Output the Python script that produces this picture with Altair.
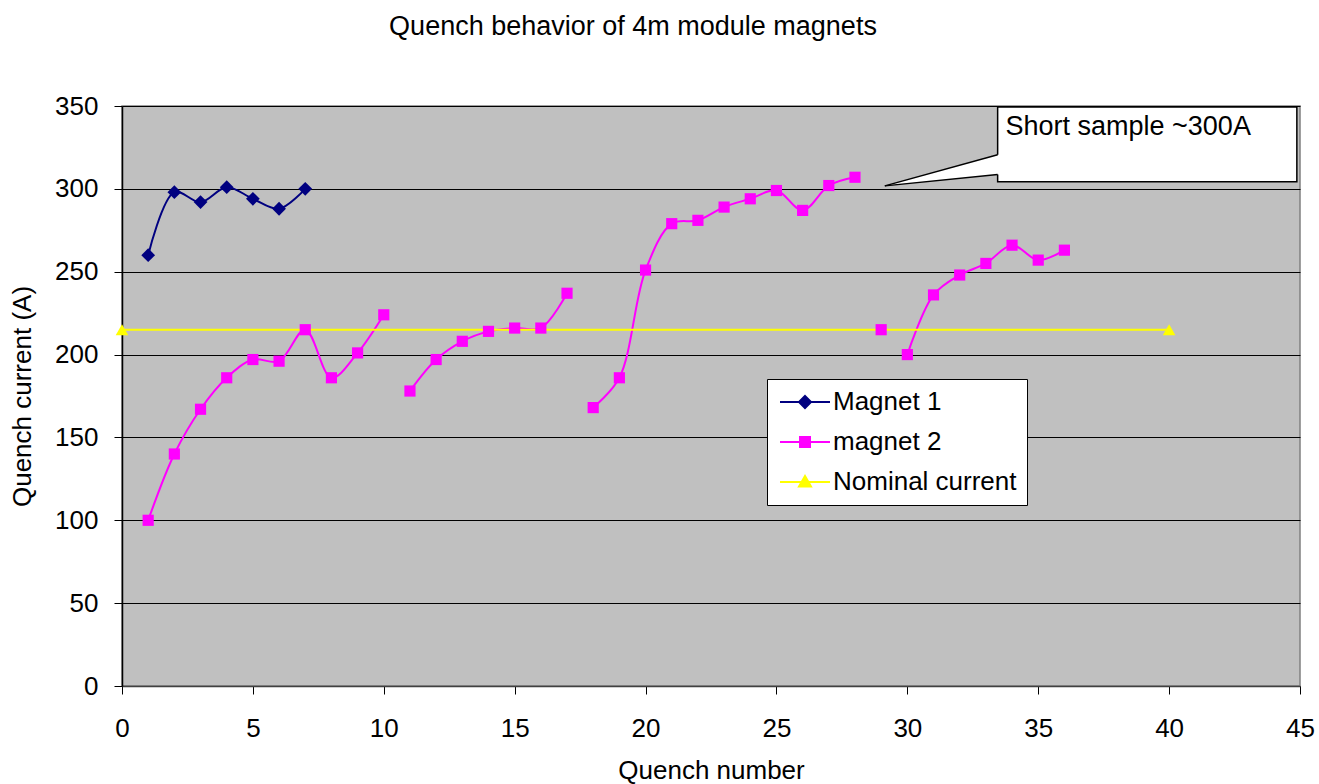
import altair as alt
import pandas as pd

FONT = "Liberation Sans"

# ---- data ----
series_names = ["Magnet 1", "magnet 2", "Nominal current"]
series_colors = ["#000080", "#FF00FF", "#FFFF00"]

m1_x = [1, 2, 3, 4, 5, 6, 7]
m1_y = [260, 298, 292, 301, 294, 288, 300]

m2_x = list(range(1, 37))
m2_y = [100, 140, 167, 186, 197, 196, 215, 186, 201, 224,
        178, 197, 208, 214, 216, 216, 237,
        168, 186, 251, 279, 281, 289, 294, 299, 287, 302, 307,
        215,
        200, 236, 248, 255, 266, 257, 263]
m2_group = [1] * 10 + [2] * 7 + [3] * 11 + [4] + [5] * 7

nom_x = [0, 40]
nom_y = [215, 215]

# annotation callout ("Short sample ~300A")
note_text = "Short sample ~300A"
box_x = [33.45, 44.88]
box_y = [304.3, 349.4]
tip = (29.14, 301.8)
base_y = [320.6, 308.7]

x_ticks = list(range(0, 46, 5))
y_ticks = list(range(0, 351, 50))

# ---- tables ----
rows = []
for x, y in zip(m1_x, m1_y):
    rows.append({"x": x, "y": y, "series": "Magnet 1", "seg": "m1"})
for x, y, g in zip(m2_x, m2_y, m2_group):
    rows.append({"x": x, "y": y, "series": "magnet 2", "seg": f"m2_{g}"})
for x, y in zip(nom_x, nom_y):
    rows.append({"x": x, "y": y, "series": "Nominal current", "seg": "nom"})
df = pd.DataFrame(rows)

xs = alt.Scale(domain=[0, 45], nice=False, zero=False)
ys = alt.Scale(domain=[0, 350], nice=False)
cscale = alt.Scale(domain=series_names, range=series_colors)

X = alt.X("x:Q", scale=xs, title="Quench number",
          axis=alt.Axis(values=x_ticks, grid=False, tickSize=8, labelPadding=21,
                        labelFlush=False, titlePadding=16,
                        domainColor="#404040", tickColor="#000000"))
Y = alt.Y("y:Q", scale=ys, title="Quench current (A)",
          axis=alt.Axis(values=y_ticks, grid=True, gridColor="#000000", gridWidth=1,
                        tickSize=8, labelPadding=16, titlePadding=19,
                        domainColor="#000000", tickColor="#000000"))

base = alt.Chart(df)

smooth = base.transform_filter(alt.datum.series != "Nominal current").mark_line(
    interpolate="catmull-rom", strokeWidth=2
).encode(x=X, y=Y, color=alt.Color("series:N", scale=cscale, legend=None), detail="seg:N")

nominal_line = base.transform_filter(alt.datum.series == "Nominal current").mark_line(
    strokeWidth=2
).encode(x=X, y=Y, color=alt.Color("series:N", scale=cscale, legend=None), detail="seg:N")

shapes = {"Magnet 1": "diamond", "magnet 2": "square", "Nominal current": "triangle-up"}
sizes = {"Magnet 1": 190, "magnet 2": 125, "Nominal current": 160}
point_layers = []
for s in series_names:
    point_layers.append(
        base.transform_filter(alt.datum.series == s).mark_point(
            filled=True, shape=shapes[s], size=sizes[s], opacity=1
        ).encode(x=X, y=Y, color=alt.Color("series:N", scale=cscale, legend=None))
    )
data_layers = alt.layer(smooth, nominal_line, *point_layers)

# legend-only layer (positions are null so nothing is drawn in the plot)
legend_paths = [
    "M-1,0H4M1.5,-0.6L2.1,0L1.5,0.6L0.9,0Z",
    "M-1,0H4M1,-0.5H2V0.5H1Z",
    "M-1,0H4M1.5,-0.6L2.1,0.45L0.9,0.45Z",
]
leg = alt.Legend(title=None, orient="none", legendX=645, legendY=273,
                 fillColor="#FFFFFF", strokeColor="#000000", padding=10,
                 labelFont=FONT, labelFontSize=26, labelColor="#000000",
                 labelOffset=30, symbolSize=400, symbolStrokeWidth=2,
                 rowPadding=14, labelLimit=400)
legend_df = pd.DataFrame({"series": series_names, "lx": [None] * 3, "ly": [None] * 3})
legend_layer = alt.Chart(legend_df).mark_point(filled=True, opacity=1).encode(
    x=alt.X("lx:Q", scale=xs),
    y=alt.Y("ly:Q", scale=ys),
    color=alt.Color("series:N", scale=cscale, legend=leg),
    stroke=alt.Stroke("series:N", scale=cscale, legend=leg),
    shape=alt.Shape("series:N", scale=alt.Scale(domain=series_names, range=legend_paths), legend=leg),
)

# callout
box_df = pd.DataFrame({"x": [box_x[0]], "x2": [box_x[1]], "y": [box_y[0]], "y2": [box_y[1]]})
box = alt.Chart(box_df).mark_rect(fill="#FFFFFF", stroke="#000000", strokeWidth=1.5).encode(
    x=alt.X("x:Q", scale=xs), x2="x2:Q", y=alt.Y("y:Q", scale=ys), y2="y2:Q")
area_df = pd.DataFrame({"x": [tip[0], box_x[0], box_x[0] + 0.15],
                        "y": [tip[1], base_y[0], base_y[0]],
                        "y2": [tip[1], base_y[1], base_y[1]]})
pointer_fill = alt.Chart(area_df).mark_area(fill="#FFFFFF", opacity=1).encode(
    x=alt.X("x:Q", scale=xs), y=alt.Y("y:Q", scale=ys), y2="y2:Q")
rule_df = pd.DataFrame({"x": [tip[0], tip[0]], "y": [tip[1], tip[1]],
                        "x2": [box_x[0], box_x[0]], "y2": base_y})
pointer_edges = alt.Chart(rule_df).mark_rule(color="#000000", strokeWidth=1.5).encode(
    x=alt.X("x:Q", scale=xs), y=alt.Y("y:Q", scale=ys), x2="x2:Q", y2="y2:Q")
note_df = pd.DataFrame({"x": [33.75], "y": [337.5], "t": [note_text]})
note = alt.Chart(note_df).mark_text(align="left", baseline="middle", font=FONT,
                                    fontSize=27, color="#000000").encode(
    x=alt.X("x:Q", scale=xs), y=alt.Y("y:Q", scale=ys), text="t:N")

chart = alt.layer(
    data_layers, legend_layer, box, pointer_fill, pointer_edges, note
).resolve_scale(
    color="independent", stroke="independent", shape="independent"
).properties(
    width=1178, height=580,
    padding={"left": 122, "top": 106, "right": 19, "bottom": 98},
    autosize=alt.AutoSizeParams(type="none"),
    title=alt.Title("Quench behavior of 4m module magnets", font=FONT, fontSize=27,
                    fontWeight="normal", color="#000000", anchor="middle", dx=-78,
                    offset=52),
    background="#FFFFFF",
).configure_view(
    fill="#C0C0C0", stroke="#808080", strokeWidth=1.5
).configure_axis(
    labelFont=FONT, labelFontSize=26, labelColor="#000000",
    titleFont=FONT, titleFontSize=26, titleFontWeight="normal", titleColor="#000000",
    domainWidth=1.5, tickWidth=1,
)

chart.save("out.html", embed_options={"renderer": "svg", "actions": False})
